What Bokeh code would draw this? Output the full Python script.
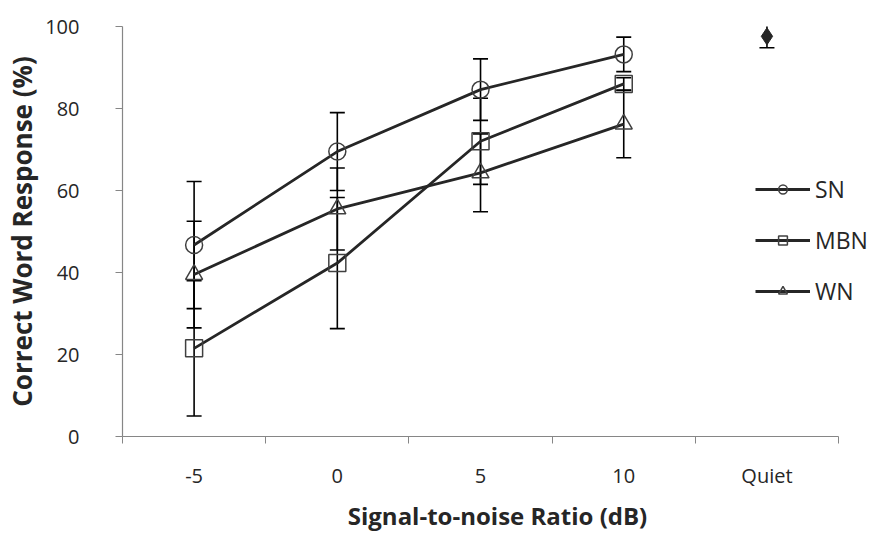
from bokeh.plotting import figure
from bokeh.models import (ColumnDataSource, Whisker, TeeHead, FixedTicker, Range1d,
                          Legend, LegendItem)
from bokeh.embed import file_html
from bokeh.resources import INLINE

categories = ["-5", "0", "5", "10", "Quiet"]

sn_mean = [46.7, 69.5, 84.6, 93.2]
sn_err = [15.5, 9.5, 7.5, 4.2]
mbn_mean = [21.5, 42.3, 72.0, 86.0]
mbn_err = [16.5, 16.0, 10.5, 1.5]
wn_mean = [39.5, 55.5, 64.3, 76.2]
wn_err = [13.0, 10.0, 9.5, 8.2]
quiet_mean = [97.6]
quiet_err = [2.8]

FONT = "Open Sans"
DARK = "#262626"
AXIS = "#868686"

snr_x = list(range(len(sn_mean)))
quiet_x = [len(categories) - 1]

# frame reaches further right than the axis so the legend text is not clipped
x_lo, x_hi = -0.5, len(categories) - 0.5
extra = 0.237

p = figure(width=877, height=534, output_backend="svg", toolbar_location=None,
           x_range=Range1d(x_lo, x_hi + extra), y_range=Range1d(0, 100),
           min_border_left=122, min_border_right=5, min_border_top=26,
           min_border_bottom=97)
p.outline_line_color = None
p.xgrid.visible = False
p.ygrid.visible = False
p.background_fill_color = "white"
p.border_fill_color = "white"

# error bars
def add_err(xs, m, e):
    src = ColumnDataSource(dict(x=xs, lo=[a - b for a, b in zip(m, e)],
                                hi=[a + b for a, b in zip(m, e)]))
    w = Whisker(source=src, base="x", lower="lo", upper="hi", dimension="height",
                line_color="black", line_width=1.6,
                upper_head=TeeHead(size=15, line_color="black", line_width=1.6),
                lower_head=TeeHead(size=15, line_color="black", line_width=1.6))
    p.add_layout(w)

add_err(snr_x, sn_mean, sn_err)
add_err(snr_x, mbn_mean, mbn_err)
add_err(snr_x, wn_mean, wn_err)
add_err(quiet_x, quiet_mean, quiet_err)

items = []
for name, m, marker in [("SN", sn_mean, "circle"), ("MBN", mbn_mean, "square"),
                        ("WN", wn_mean, "triangle")]:
    src = ColumnDataSource(dict(x=snr_x, y=m))
    l = p.line("x", "y", source=src, line_color=DARK, line_width=2.8)
    s = p.scatter("x", "y", source=src, marker=marker, size=17, fill_color=None,
                  line_color="#404040", line_width=1.5)
    items.append(LegendItem(label=name, renderers=[l, s]))

qsrc = ColumnDataSource(dict(x=quiet_x, y=quiet_mean))
p.scatter("x", "y", source=qsrc, marker="diamond", size=17, fill_color=DARK,
          line_color=DARK)

legend = Legend(items=items, location=(633, 129), orientation="vertical",
                glyph_width=55, glyph_height=22, label_height=22, spacing=19,
                label_standoff=5, padding=0, margin=0,
                border_line_color=None, background_fill_alpha=0,
                label_text_font=FONT, label_text_font_size="23px",
                label_text_color=DARK)
p.add_layout(legend)

# axes
xa = p.xaxis[0]
xa.bounds = (x_lo, x_hi)
xa.ticker = FixedTicker(ticks=list(range(len(categories))),
                        minor_ticks=[i - 0.5 for i in range(len(categories) + 1)])
xa.major_label_overrides = {i: c for i, c in enumerate(categories)}
xa.major_tick_out = 0
xa.major_tick_in = 0
xa.minor_tick_out = 7
xa.minor_tick_in = 0
xa.minor_tick_line_color = AXIS
xa.axis_line_color = AXIS
xa.axis_line_width = 1.2
xa.major_label_standoff = 18
xa.major_label_text_font = FONT
xa.major_label_text_font_size = "20px"
xa.major_label_text_color = DARK
xa.axis_label = "Signal-to-noise Ratio (dB)"
xa.axis_label_text_font = FONT
xa.axis_label_text_font_size = "24px"
xa.axis_label_text_font_style = "bold"
xa.axis_label_text_color = DARK
xa.axis_label_standoff = 7

ya = p.yaxis[0]
ya.ticker = FixedTicker(ticks=[0, 20, 40, 60, 80, 100])
ya.major_tick_out = 7
ya.major_tick_in = 0
ya.minor_tick_out = 0
ya.minor_tick_in = 0
ya.major_tick_line_color = AXIS
ya.axis_line_color = AXIS
ya.axis_line_width = 1.2
ya.major_label_standoff = 36
ya.major_label_text_font = FONT
ya.major_label_text_font_size = "20px"
ya.major_label_text_color = DARK
ya.axis_label = "Correct Word Response (%)"
ya.axis_label_text_font = FONT
ya.axis_label_text_font_size = "26px"
ya.axis_label_text_font_style = "bold"
ya.axis_label_text_color = DARK
ya.axis_label_standoff = 2

open("out.html", "w").write(file_html(p, INLINE))
